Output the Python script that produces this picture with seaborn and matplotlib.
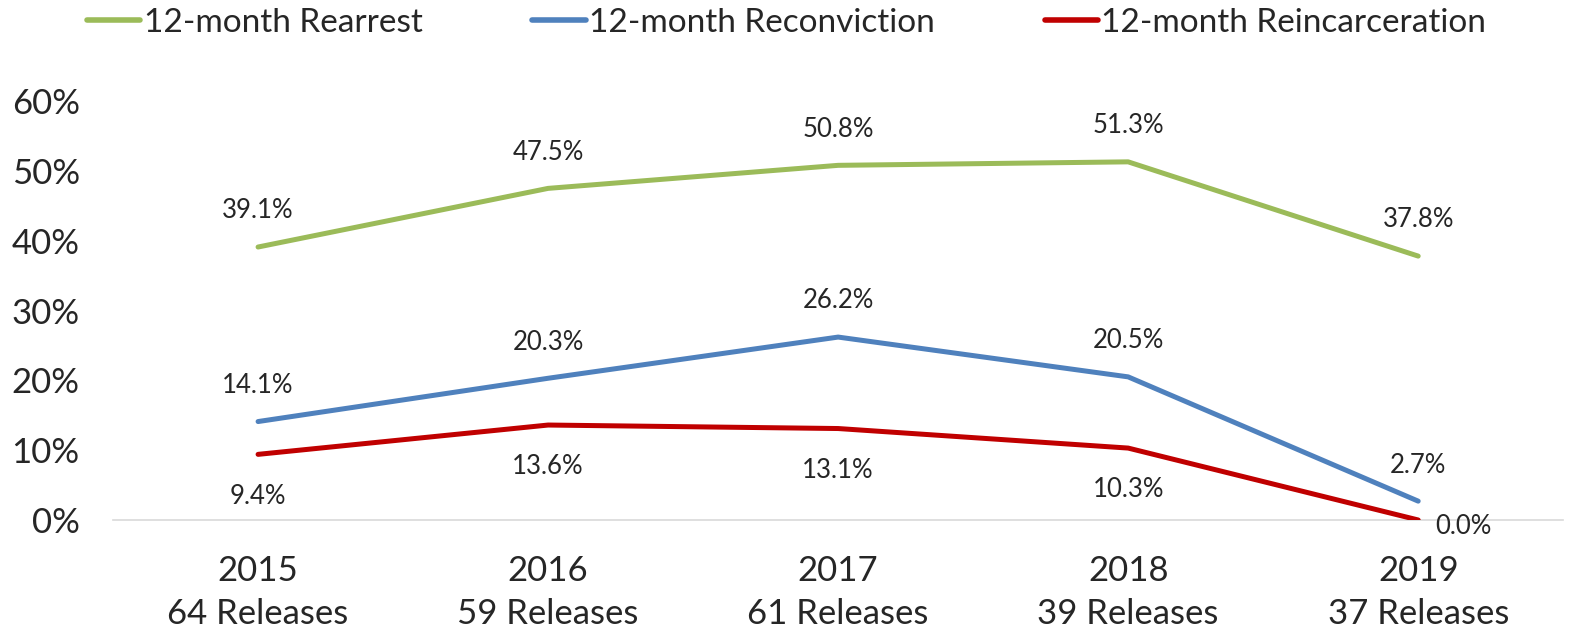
import pandas as pd
import numpy as np
import matplotlib.pyplot as plt
import seaborn as sns

years = ['2015', '2016', '2017', '2018', '2019']
releases = [64, 59, 61, 39, 37]
rearrest = [39.1, 47.5, 50.8, 51.3, 37.8]
reconviction = [14.1, 20.3, 26.2, 20.5, 2.7]
reincarceration = [9.4, 13.6, 13.1, 10.3, 0.0]

series_names = ['12-month Rearrest', '12-month Reconviction', '12-month Reincarceration']
series_vals = [rearrest, reconviction, reincarceration]
colors = ['#9BBB59', '#4F81BD', '#C00000']

rows = []
for name, vals in zip(series_names, series_vals):
    for i, v in enumerate(vals):
        rows.append([name, i, v / 100.0])
df = pd.DataFrame(rows, columns=['SERIES', 'X', 'PCT'])

sns.set_style('white')
plt.rcParams['font.family'] = ['Lato', 'DejaVu Sans']

fig = plt.figure(figsize=(15.79, 6.28), dpi=100)
ax = fig.add_axes([0.0716, 0.172, 0.9184, 0.667])

sns.lineplot(data=df, x='X', y='PCT', hue='SERIES', hue_order=series_names,
             palette=colors, linewidth=3.6, ax=ax, legend=False)

ax.set_xlim(-0.5, 4.5)
ax.set_ylim(0, 0.6)
ax.set_yticks(np.arange(0, 0.61, 0.1))
ax.set_yticklabels(['{:.0f}%'.format(t * 100) for t in np.arange(0, 0.61, 0.1)], fontsize=25)
ax.set_xticks(range(len(years)))
ax.set_xticklabels(['{}\n{} Releases'.format(y, r) for y, r in zip(years, releases)],
                   fontsize=25, linespacing=1.45)
ax.tick_params(axis='x', length=0, pad=25)
ax.tick_params(axis='y', length=0, pad=24)
ax.set_xlabel('')
ax.set_ylabel('')
for s in ['top', 'right', 'left']:
    ax.spines[s].set_visible(False)
ax.spines['bottom'].set_color('#D9D9D9')
ax.spines['bottom'].set_linewidth(1.2)
ax.spines['bottom'].set_zorder(0)

# data labels
for i, v in enumerate(rearrest):
    ax.annotate('{:.1f}%'.format(v), (i, v / 100), xytext=(0, 17), textcoords='offset points',
                ha='center', va='bottom', fontsize=18.5)
for i, v in enumerate(reconviction):
    ax.annotate('{:.1f}%'.format(v), (i, v / 100), xytext=(0, 17), textcoords='offset points',
                ha='center', va='bottom', fontsize=18.5)
for i, v in enumerate(reincarceration):
    if i == len(reincarceration) - 1:
        ax.annotate('{:.1f}%'.format(v), (i, v / 100), xytext=(12, -5), textcoords='offset points',
                    ha='left', va='center', fontsize=18.5)
    else:
        ax.annotate('{:.1f}%'.format(v), (i, v / 100), xytext=(0, -21), textcoords='offset points',
                    ha='center', va='top', fontsize=18.5)

handles = [plt.Line2D([0], [0], color=c, lw=4) for c in colors]
fig.legend(handles, series_names, loc='upper left', bbox_to_anchor=(0.036, 1.035), ncol=3,
           frameon=False, fontsize=24, handlelength=1.6, handletextpad=0.1, columnspacing=3.3)

fig.savefig('out.png', dpi=100)
